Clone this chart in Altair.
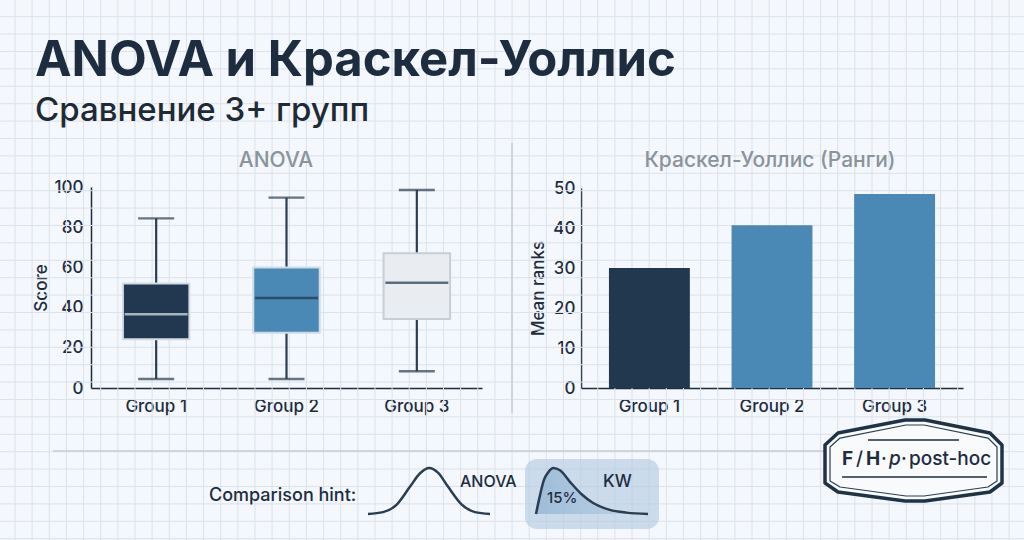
import altair as alt
import pandas as pd

W, H = 1024, 540
FONT = "Inter"
INK = "#1d2d3f"
MUTED = "#8b939b"
WHISKER = "#2a3d51"
GRID = "#dbe2ea"
RULE = "#c6cdd5"

groups = ["Group 1", "Group 2", "Group 3"]

# five-number summaries of the scores (ANOVA panel)
score_low = [4.5, 4.5, 8.3]
score_q1 = [24.2, 27.5, 34.3]
score_median = [36.7, 44.8, 52.4]
score_q3 = [52.0, 60.0, 67.0]
score_high = [84.4, 94.7, 98.5]

# Kruskal-Wallis mean ranks
mean_ranks = [30.0, 40.7, 48.5]

# sketch of a symmetric density
bell_x = [-3.0, -2.26, -1.60, -0.94, -0.45, 0.0, 0.44, 0.94, 1.60, 2.26, 3.0]
bell_y = [0.0, 0.04, 0.20, 0.59, 0.88, 1.0, 0.90, 0.59, 0.21, 0.04, 0.0]

# sketch of a right-skewed density
skew_x = [0.0, 0.036, 0.071, 0.110, 0.154, 0.214, 0.303, 0.407, 0.510, 0.659, 0.808, 1.0]
skew_y = [0.0, 0.41, 0.74, 0.91, 1.0, 0.95, 0.70, 0.43, 0.24, 0.09, 0.03, 0.0]

box_fill = ["#223850", "#4a88b6", "#e9edf1"]
box_stroke = ["#d3dce5", "#cfdbe6", "#c7ced5"]
median_color = ["#e3eaf1", "#1f3347", "#22364a"]
bar_color = ["#22384f", "#4a89b6", "#4a89b6"]

# badge outlines as unit-square symbol paths
BADGE_OUTER = ("M-1,-0.175 L-0.853,-0.311 L-0.096,-0.458 L0.13,-0.458 L0.864,-0.311 "
               "L1,-0.175 L1,0.254 L0.864,0.356 L0.13,0.458 L-0.096,0.458 "
               "L-0.853,0.356 L-1,0.254 Z")
BADGE_INNER = ("M-1,-0.162 L-0.88,-0.269 L-0.09,-0.425 L0.126,-0.425 L0.892,-0.269 "
               "L1,-0.162 L1,0.246 L0.892,0.317 L0.126,0.425 L-0.09,0.425 "
               "L-0.88,0.317 L-1,0.246 Z")

ONE = alt.Data(values=[{}])


def note(text, x, y, size, weight=500, color=INK, align="left", style="normal"):
    return alt.Chart(ONE).mark_text(
        text=text, font=FONT, fontSize=size, fontWeight=weight, color=color,
        align=align, baseline="alphabetic", fontStyle=style,
    ).encode(x=alt.value(x), y=alt.value(y))


def hrule(x1, x2, y, color=RULE, width=1.5):
    return alt.Chart(ONE).mark_rule(color=color, strokeWidth=width).encode(
        x=alt.value(x1), x2=alt.value(x2), y=alt.value(y))


def vrule(x, y1, y2, color=RULE, width=1.5):
    return alt.Chart(ONE).mark_rule(color=color, strokeWidth=width).encode(
        x=alt.value(x), y=alt.value(y1), y2=alt.value(y2))


# ---- background grid paper ----
vgrid = alt.Chart(alt.sequence(15, W, 17.14, as_="gx")).mark_rule(
    color=GRID, strokeWidth=1).encode(
    x=alt.X("gx:Q", scale=alt.Scale(domain=[0, W], range=[0, W], nice=False, zero=False), axis=None))
hgrid = alt.Chart(alt.sequence(16.7, H, 17.4, as_="gy")).mark_rule(
    color=GRID, strokeWidth=1).encode(
    y=alt.Y("gy:Q", scale=alt.Scale(domain=[0, H], range=[0, H], nice=False, zero=False), axis=None))
grid = alt.layer(vgrid, hgrid)

# ---- ANOVA box plot ----
axis_common = dict(
    grid=False, ticks=False, domainColor=INK, domainWidth=1.5,
    labelFont=FONT, labelFontSize=17, labelFontWeight=500, labelColor=INK,
)
box_df = pd.DataFrame({
    "group": groups, "low": score_low, "q1": score_q1, "median": score_median,
    "q3": score_q3, "high": score_high,
})
bx = alt.X("group:N",
           scale=alt.Scale(domain=groups, range=[91, 482], paddingInner=0.49, paddingOuter=0.245),
           axis=alt.Axis(orient="bottom", offset=-152, title=None, labelAngle=0,
                         labelPadding=10, **axis_common))
by_scale = alt.Scale(domain=[0, 100], range=[388, 187], nice=False)
by_axis = alt.Axis(orient="left", offset=-91, values=[0, 20, 40, 60, 80, 100],
                   labelPadding=8, title="Score", titleFont=FONT, titleFontSize=17,
                   titleFontWeight=500, titleColor=INK, titlePadding=3, **axis_common)

base = alt.Chart(box_df)
whiskers = base.mark_rule(color=WHISKER, strokeWidth=2.2).encode(
    x=bx, y=alt.Y("low:Q", scale=by_scale, axis=by_axis), y2="high:Q")
boxes = base.mark_bar(strokeWidth=2).encode(
    x=bx,
    y=alt.Y("q1:Q", scale=by_scale, axis=by_axis), y2="q3:Q",
    fill=alt.Fill("group:N", scale=alt.Scale(domain=groups, range=box_fill), legend=None),
    stroke=alt.Stroke("group:N", scale=alt.Scale(domain=groups, range=box_stroke), legend=None),
)
caps_low = base.mark_tick(size=36, thickness=2.4, color=WHISKER).encode(
    x=bx, y=alt.Y("low:Q", scale=by_scale, axis=by_axis))
caps_high = base.mark_tick(size=36, thickness=2.4, color=WHISKER).encode(
    x=bx, y=alt.Y("high:Q", scale=by_scale, axis=by_axis))
medians = base.mark_tick(size=63, thickness=2.6).encode(
    x=bx, y=alt.Y("median:Q", scale=by_scale, axis=by_axis),
    color=alt.Color("group:N", scale=alt.Scale(domain=groups, range=median_color), legend=None),
)
box_panel = alt.layer(whiskers, boxes, caps_low, caps_high, medians)

# ---- Kruskal-Wallis mean ranks ----
bar_df = pd.DataFrame({"group": groups, "rank": mean_ranks})
bar_panel = alt.Chart(bar_df).mark_bar().encode(
    x=alt.X("group:N",
            scale=alt.Scale(domain=groups, range=[581, 963], paddingInner=0.34, paddingOuter=0.228),
            axis=alt.Axis(orient="bottom", offset=-152, title=None, labelAngle=0,
                          labelPadding=10, **axis_common)),
    y=alt.Y("rank:Q", scale=alt.Scale(domain=[0, 50], range=[388, 188], nice=False),
            axis=alt.Axis(orient="left", offset=-581, values=[0, 10, 20, 30, 40, 50],
                          labelPadding=6, title="Mean ranks", titleFont=FONT, titleFontSize=17,
                          titleFontWeight=500, titleColor=INK, titlePadding=5, **axis_common)),
    color=alt.Color("group:N", scale=alt.Scale(domain=groups, range=bar_color), legend=None),
)

# ---- comparison hint curves ----
bell_df = pd.DataFrame({"x": bell_x, "y": bell_y})
bell = alt.Chart(bell_df).mark_line(color=WHISKER, strokeWidth=2.5, interpolate="monotone").encode(
    x=alt.X("x:Q", scale=alt.Scale(domain=[-3, 3], range=[368, 490], nice=False, zero=False), axis=None),
    y=alt.Y("y:Q", scale=alt.Scale(domain=[0, 1], range=[514, 468], nice=False), axis=None),
)

skew_df = pd.DataFrame({"x": skew_x, "y": skew_y})
sx = alt.X("x:Q", scale=alt.Scale(domain=[0, 1], range=[536, 648], nice=False, zero=False), axis=None)
sy = alt.Y("y:Q", scale=alt.Scale(domain=[0, 1], range=[514, 468], nice=False), axis=None)
skew_fill = alt.Gradient(
    gradient="linear", x1=0, y1=0, x2=1, y2=0,
    stops=[alt.GradientStop(color="#93b5d4", offset=0),
           alt.GradientStop(color="#bed2e5", offset=1)],
)
skew = alt.layer(
    alt.Chart(skew_df).mark_area(interpolate="monotone", color=skew_fill, opacity=0.8).encode(x=sx, y=sy),
    alt.Chart(skew_df).mark_line(interpolate="monotone", color=WHISKER, strokeWidth=2.5).encode(x=sx, y=sy),
)

hint_box = alt.Chart(ONE).mark_rect(cornerRadius=12, color="#b2cae0", opacity=0.62).encode(
    x=alt.value(525), x2=alt.value(659), y=alt.value(459), y2=alt.value(529))

# ---- badge ----
badge_outer = alt.Chart(ONE).mark_point(
    shape=BADGE_OUTER, filled=True, color="#f8fafc", opacity=1,
    stroke="#1f3347", strokeWidth=3.5, strokeJoin="round", size=177 ** 2,
).encode(x=alt.value(913.5), y=alt.value(460.5))
badge_inner = alt.Chart(ONE).mark_point(
    shape=BADGE_INNER, filled=False, opacity=1,
    stroke="#2b3e50", strokeWidth=1.2, strokeJoin="round", size=167 ** 2,
).encode(x=alt.value(913.5), y=alt.value(460.5))

layers = [
    grid,
    vrule(512, 143, 413),
    hrule(53, 825, 451),
    hint_box,
    box_panel,
    bar_panel,
    bell,
    skew,
    badge_outer,
    badge_inner,
    hrule(868, 959, 440, color=INK, width=1.5),
    hrule(842, 987, 477, color=INK, width=1.5),
    note("ANOVA и Краскел-Уоллис", 35, 76, 49, 700, color=INK),
    note("Сравнение 3+ групп", 35, 121, 33, 500, color="#1e2a36"),
    note("ANOVA", 276, 167, 21, 500, color=MUTED, align="center"),
    note("Краскел-Уоллис (Ранги)", 770, 167, 21, 500, color=MUTED, align="center"),
    note("Comparison hint:", 209, 501, 18, 500),
    note("ANOVA", 460, 487, 16, 500),
    note("KW", 603, 487, 17, 500),
    note("15%", 547, 503, 15, 500),
    note("F", 842, 465, 19, 700),
    note("/", 856, 465, 19, 500),
    note("H", 866, 465, 19, 700),
    note("·", 881, 465, 19, 500),
    note("p", 889, 465, 19, 500, style="italic"),
    note("·", 901, 465, 19, 500),
    note("post-hoc", 909, 465, 19, 500),
]

chart = alt.layer(*layers).resolve_scale(
    x="independent", y="independent", color="independent",
    fill="independent", stroke="independent",
).resolve_axis(
    x="independent", y="independent",
).properties(
    width=W, height=H, padding=0,
    autosize=alt.AutoSizeParams(type="none"),
    background="#f4f7fb",
).configure_view(stroke=None)

chart.save("out.html", embed_options={"renderer": "svg", "actions": False})
